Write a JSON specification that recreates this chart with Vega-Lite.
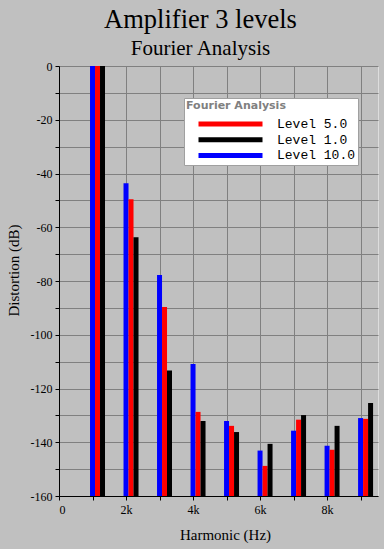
{
  "$schema": "https://vega.github.io/schema/vega-lite/v6.json",
  "width": 319,
  "height": 430,
  "autosize": {"type": "none"},
  "padding": {"left": 59, "top": 66, "right": 6, "bottom": 53},
  "background": "#c0c0c0",
  "title": {
    "text": "Amplifier 3 levels",
    "subtitle": "Fourier Analysis",
    "font": "Liberation Serif",
    "subtitleFont": "Liberation Serif",
    "fontSize": 26.5,
    "subtitleFontSize": 21,
    "fontWeight": "normal",
    "color": "#000000",
    "subtitleColor": "#000000",
    "anchor": "middle",
    "dx": -18,
    "offset": 1,
    "subtitlePadding": 5
  },
  "data": {
    "values": [
      {"harmonic": 1000, "level": "Level 10.0", "db": 0},
      {"harmonic": 1000, "level": "Level 5.0", "db": 0},
      {"harmonic": 1000, "level": "Level 1.0", "db": 0},
      {"harmonic": 2000, "level": "Level 10.0", "db": -43.6},
      {"harmonic": 2000, "level": "Level 5.0", "db": -49.6},
      {"harmonic": 2000, "level": "Level 1.0", "db": -63.7},
      {"harmonic": 3000, "level": "Level 10.0", "db": -77.8},
      {"harmonic": 3000, "level": "Level 5.0", "db": -89.7},
      {"harmonic": 3000, "level": "Level 1.0", "db": -113.3},
      {"harmonic": 4000, "level": "Level 10.0", "db": -110.9},
      {"harmonic": 4000, "level": "Level 5.0", "db": -128.7},
      {"harmonic": 4000, "level": "Level 1.0", "db": -132.1},
      {"harmonic": 5000, "level": "Level 10.0", "db": -132.1},
      {"harmonic": 5000, "level": "Level 5.0", "db": -133.9},
      {"harmonic": 5000, "level": "Level 1.0", "db": -136.2},
      {"harmonic": 6000, "level": "Level 10.0", "db": -143.1},
      {"harmonic": 6000, "level": "Level 5.0", "db": -148.8},
      {"harmonic": 6000, "level": "Level 1.0", "db": -140.6},
      {"harmonic": 7000, "level": "Level 10.0", "db": -135.7},
      {"harmonic": 7000, "level": "Level 5.0", "db": -131.6},
      {"harmonic": 7000, "level": "Level 1.0", "db": -129.9},
      {"harmonic": 8000, "level": "Level 10.0", "db": -141.3},
      {"harmonic": 8000, "level": "Level 5.0", "db": -142.8},
      {"harmonic": 8000, "level": "Level 1.0", "db": -133.9},
      {"harmonic": 9000, "level": "Level 10.0", "db": -131.0},
      {"harmonic": 9000, "level": "Level 5.0", "db": -131.3},
      {"harmonic": 9000, "level": "Level 1.0", "db": -125.4}
    ]
  },
  "encoding": {
    "x": {
      "field": "harmonic",
      "type": "quantitative",
      "scale": {"domain": [0, 9520], "nice": false, "zero": false, "padding": 0},
      "axis": {
        "values": [0, 1000, 2000, 3000, 4000, 5000, 6000, 7000, 8000, 9000],
        "labelExpr": "datum.value % 2000 === 0 ? (datum.value === 0 ? '0' : (datum.value / 1000) + 'k') : ''",
        "title": "Harmonic (Hz)",
        "titleFont": "Liberation Serif",
        "titleFontSize": 15,
        "titleFontWeight": "normal",
        "titleColor": "#000000",
        "titlePadding": 12,
        "titleX": 166,
        "labelFont": "Liberation Serif",
        "labelFontSize": 12,
        "labelColor": "#000000",
        "labelPadding": 4,
        "tickColor": "#000000",
        "tickSize": 4,
        "domainColor": "#000000",
        "gridColor": "#808080",
        "gridOpacity": 1,
        "gridWidth": 1
      }
    },
    "y": {
      "field": "db",
      "type": "quantitative",
      "scale": {"domain": [-160, 0], "nice": false, "zero": false},
      "axis": {
        "values": [-160, -150, -140, -130, -120, -110, -100, -90, -80, -70, -60, -50, -40, -30, -20, -10, 0],
        "labelExpr": "datum.value % 20 === 0 ? '' + datum.value : ''",
        "title": "Distortion (dB)",
        "titleFont": "Liberation Serif",
        "titleFontSize": 15,
        "titleFontWeight": "normal",
        "titleColor": "#000000",
        "titlePadding": 9,
        "titleY": 204,
        "labelFont": "Liberation Serif",
        "labelFontSize": 12,
        "labelColor": "#000000",
        "labelPadding": 3,
        "tickColor": "#000000",
        "tickSize": 4,
        "domainColor": "#000000",
        "gridColor": "#808080",
        "gridOpacity": 1,
        "gridWidth": 1
      }
    },
    "y2": {"datum": -160},
    "color": {
      "field": "level",
      "type": "nominal",
      "scale": {
        "domain": ["Level 5.0", "Level 1.0", "Level 10.0"],
        "range": ["#ff0000", "#000000", "#0000ff"]
      },
      "legend": {
        "orient": "none",
        "legendX": 125,
        "legendY": 32,
        "title": "Fourier Analysis",
        "titleFont": "DejaVu Sans",
        "titleFontSize": 11,
        "titleFontWeight": "bold",
        "titleColor": "#808080",
        "titlePadding": 6,
        "fillColor": "#ffffff",
        "strokeColor": "#a0a0a0",
        "padding": 2,
        "clipHeight": 14,
        "symbolType": "stroke",
        "symbolSize": 4096,
        "symbolStrokeWidth": 5,
        "symbolOffset": 10,
        "labelOffset": 12,
        "labelFont": "Liberation Mono",
        "labelFontSize": 13,
        "labelColor": "#000000",
        "rowPadding": 1.7,
        "labelExpr": "datum.label + '    '",
        "encode": {
          "symbols": {
            "update": {
              "stroke": {"scale": "color", "field": "value"}
            }
          }
        }
      }
    }
  },
  "layer": [
    {
      "transform": [{"filter": "datum.level === 'Level 10.0'"}],
      "mark": {"type": "bar", "size": 5, "xOffset": 0}
    },
    {
      "transform": [{"filter": "datum.level === 'Level 5.0'"}],
      "mark": {"type": "bar", "size": 5, "xOffset": 5}
    },
    {
      "transform": [{"filter": "datum.level === 'Level 1.0'"}],
      "mark": {"type": "bar", "size": 5, "xOffset": 10}
    }
  ]
}
